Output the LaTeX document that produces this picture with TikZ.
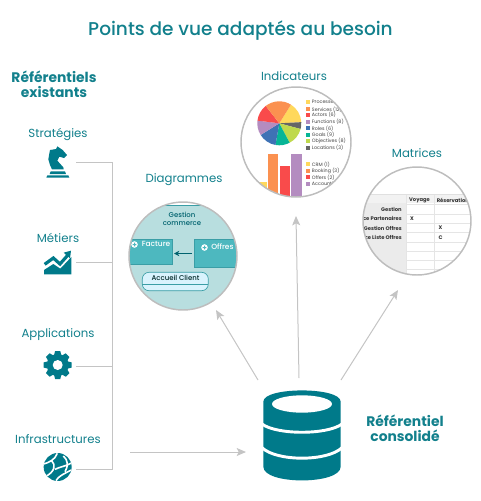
\documentclass[tikz,border=0pt]{standalone}
\usepackage{fontspec}
\setmainfont{Poppins}
\newfontfamily\popmed{Poppins Medium}
\usetikzlibrary{arrows.meta}
\definecolor{teal1}{HTML}{007A8A}
\definecolor{titlec}{HTML}{12808C}
\definecolor{grayl}{HTML}{C4C4C4}
\definecolor{ringc}{HTML}{BDBDBD}
\definecolor{diabg}{HTML}{B8DEDF}
\definecolor{diabox}{HTML}{4DB8BF}
\definecolor{diaborder}{HTML}{3A9EA6}
\definecolor{pYellow}{HTML}{FFD85C}
\definecolor{pOrange}{HTML}{FB9150}
\definecolor{pRed}{HTML}{F94B4B}
\definecolor{pPurple}{HTML}{B48CC0}
\definecolor{pBlue}{HTML}{3E72B5}
\definecolor{pTeal}{HTML}{07B596}
\definecolor{pLime}{HTML}{BFD94C}
\definecolor{pGray}{HTML}{666666}
\tikzset{
  heading/.style={text=titlec,font=\fontsize{8.8}{11}\selectfont,align=center,inner sep=0pt},
  strong/.style={text=titlec,font=\fontsize{10.4}{11}\bfseries\selectfont,align=center,inner sep=0pt},
  conn/.style={draw=grayl,line width=0.75pt},
  arr/.style={conn,-{Stealth[length=7pt,width=6pt,inset=1.5pt]}},
  ring/.style={draw=ringc,line width=1.1pt},
  legend/.style={anchor=west,inner sep=0pt,text=black!75,font=\fontsize{3.6}{4}\selectfont},
  cell/.style={inner sep=0pt,text=black!80,font=\fontsize{3.9}{4}\bfseries\selectfont},
  dia/.style={inner sep=0pt,text=teal1!80!black,font=\popmed\fontsize{5.2}{6}\selectfont,align=center},
  diaw/.style={inner sep=0pt,text=white,font=\popmed\fontsize{5.6}{6}\selectfont},
}
\begin{document}
\begin{tikzpicture}[x=0.75pt,y=-0.75pt]
\useasboundingbox (0,0) rectangle (481,501);

% titles
\node[text=titlec,font=\popmed\fontsize{13.9}{18}\selectfont,inner sep=0pt] (title) at (240.5,30.5) {Points de vue adaptés au besoin};
\node[strong] (exist) at (54,84) {Référentiels\\existants};
\node[heading] (lstrat) at (58,134) {Stratégies};
\node[heading] (lmet) at (58,238) {Métiers};
\node[heading] (lapp) at (58,335) {Applications};
\node[heading] (linf) at (58,439) {Infrastructures};
\node[heading] (lind) at (294,76) {Indicateurs};
\node[heading] (lmat) at (417,153) {Matrices};
\node[heading] (ldia) at (184,180) {Diagrammes};
\node[strong] (lcons) at (405,428) {Référentiel\\consolidé};

% knight icon
\begin{scope}[shift={(0,120)},x=0.25pt,y=-0.25pt]
\fill[teal1] (139,173) -- (142,166) -- (205,166) -- (208,173) -- cycle;
\fill[teal1] (149,162) -- (152,154) -- (195,154) -- (198,162) -- cycle;
\fill[teal1] (156,148) -- (191,148) -- (190,142) -- (172,122) -- (178,110) -- (192,114) -- (201,105) -- (188,90) -- (172,79) -- (168,87) -- (150,90) -- (148,100) -- (145,118) -- (150,135) -- cycle;
\end{scope}
% trend icon
\begin{scope}[shift={(0,120)},x=0.25pt,y=-0.25pt]
\fill[teal1] (132,463) -- (132,450) -- (160,432) -- (181,446) -- (214,411) -- (214,463) -- cycle;
\draw[teal1,line width=2.4pt,line join=miter] (134,433) -- (160,414) -- (180,432) -- (203,406);
\fill[teal1] (213,392) -- (191,398) -- (210,415) -- cycle;
\end{scope}
% gear icon
\begin{scope}[shift={(57.7,365)}]
\foreach \a in {0,45,...,315}{
  \fill[teal1,rotate=\a] (-3.6,-10) -- (-2.6,-14) -- (2.6,-14) -- (3.6,-10) -- cycle;
}
\fill[teal1] (0,0) circle (11);
\fill[white] (0,0) circle (5);
\end{scope}
% globe icon
\begin{scope}[shift={(0,320)},x=0.25pt,y=-0.25pt]
\fill[teal1] (173,441) circle (42);
\begin{scope}
\clip (173,441) circle (42);
\draw[white,line width=1.2pt] (131,432) .. controls (145,428) and (165,420) .. (172,400);
\draw[white,line width=1.2pt] (155,422) .. controls (168,435) and (165,455) .. (136,470);
\draw[white,line width=1.2pt] (165,448) .. controls (180,440) and (195,440) .. (216,428);
\draw[white,line width=1.2pt] (190,408) .. controls (205,420) and (205,440) .. (195,455);
\draw[white,line width=1.2pt] (168,482) .. controls (175,468) and (195,460) .. (214,450);
\end{scope}
\end{scope}

% bracket
\coordinate (s1) at (76,162); \coordinate (t1) at (112,162);
\coordinate (s2) at (76,262); \coordinate (t2) at (112,262);
\coordinate (s3) at (76,366); \coordinate (t3) at (112,366);
\coordinate (s4) at (76,469); \coordinate (t4) at (112,469);
\draw[conn] (s1) -- (t1) -- (t4) -- (s4);
\draw[conn] (s2) -- (t2);
\draw[conn] (s3) -- (t3);

% arrows
\coordinate (a0) at (130,452); \coordinate (a1) at (246,452);
\coordinate (b0) at (258,380); \coordinate (b1) at (216,310);
\coordinate (c0) at (299,378); \coordinate (c1) at (296,216);
\coordinate (d0) at (341,380); \coordinate (d1) at (398,290);
\draw[arr] (a0) -- (a1);
\draw[arr] (b0) -- (b1);
\draw[arr] (c0) -- (c1);
\draw[arr] (d0) -- (d1);

% Indicateurs circle
\coordinate (ci) at (296,142);
\begin{scope}
\clip (ci) circle (55);
\begin{scope}[shift={(279.3,123.3)},x=0.75pt,y=0.75pt]
\fill[pYellow] (0,0) -- (58:22) arc (58:3:22) -- cycle;
\fill[pGray] (0,0) -- (3:22) arc (3:-15:22) -- cycle;
\fill[pLime] (0,0) -- (-15:22) arc (-15:-62:22) -- cycle;
\fill[pTeal] (0,0) -- (-62:22) arc (-62:-100:22) -- cycle;
\fill[pBlue] (0,0) -- (-100:22) arc (-100:-148:22) -- cycle;
\fill[pPurple] (0,0) -- (-148:22) arc (-148:-187:22) -- cycle;
\fill[pRed] (0,0) -- (173:22) arc (173:128:22) -- cycle;
\fill[pOrange] (0,0) -- (128:22) arc (128:58:22) -- cycle;
\end{scope}
\foreach \yy/\cc/\tt in {102.3/pYellow/Processes,109.3/pOrange/Services (12),115/pRed/Actors (6),122/pPurple/Functions (8),128.3/pBlue/Roles (6),135/pTeal/Goals (9),141.3/pLime/Objectives (8),148/pGray/Locations (3),164.3/pYellow/CRM (1),171/pOrange/Booking (3),177.3/pRed/Offers (2),184/pPurple/Accounting (3)}{
  \fill[\cc] (306.3,\yy-2) rectangle (310.3,\yy+2);
  \node[legend] at (311.7,\yy) {\tt};
}
\fill[pYellow] (258.3,181.7) rectangle (266.7,200);
\fill[pOrange] (268,154) rectangle (278.3,200);
\fill[pRed] (280,166) rectangle (290,200);
\fill[pPurple] (291.3,154) rectangle (301.7,200);
\end{scope}
\draw[ring] (ci) circle (55);

% Matrices circle
\coordinate (cm) at (417,221);
\begin{scope}
\clip (cm) circle (54);
\fill[black!8] (355,195) rectangle (406,280);
\fill[black!5] (355,195) rectangle (481,203);
\draw[black!12,line width=0.4pt] (355,194.5) -- (481,194.5);
\foreach \yy in {204,214,223,232,242,251,260,269}{
  \draw[black!10,line width=0.4pt] (406,\yy) -- (481,\yy);
}
\draw[black!10,line width=0.4pt] (406,195) -- (406,280);
\draw[black!10,line width=0.4pt] (434,195) -- (434,280);
\node[cell] (mv) at (419.5,200) {Voyage};
\node[cell,anchor=west] (mr) at (436.5,200) {Réservation};
\node[cell,anchor=east] (m1) at (402,209) {Gestion};
\node[cell,anchor=east] (m2) at (402,218) {ice Partenaires};
\node[cell,anchor=east] (m3) at (402,228) {Gestion Offres};
\node[cell,anchor=east] (m4) at (402,237) {ce Liste Offres};
\node[cell] (x1) at (412,219) {X};
\node[cell] (x2) at (440.5,228) {X};
\node[cell] (x3) at (440.5,238) {C};
\end{scope}
\draw[ring] (cm) circle (54);

% Diagrammes circle
\coordinate (cd) at (183,256);
\begin{scope}
\clip (cd) circle (54);
\fill[diabg] (120,205) rectangle (245,310);
\draw[diaborder,line width=0.5pt] (120,205) -- (245,205);
\node[dia] (dg) at (182,219) {Gestion\\commerce};
\path[fill=diabox,draw=diaborder,line width=0.6pt] (120,239.3) rectangle (172.7,264.3);
\path[fill=diabox,draw=diaborder,line width=0.6pt] (194.7,239.3) rectangle (245,267.7);
\node[diaw,anchor=west] (df) at (141.5,244) {Facture};
\node[diaw,anchor=west] (dof) at (211,247) {Offres};
\fill[white] (134.5,244.5) circle (3.3);
\fill[white] (204.5,247.5) circle (3.3);
\fill[diabox] (132.7,244) rectangle (136.3,245) (134,242.7) rectangle (135,246.3);
\fill[diabox] (202.7,247) rectangle (206.3,248) (204,245.7) rectangle (205,249.3);
\coordinate (af) at (192,253.5); \coordinate (at) at (174,253.5);
\draw[teal1!80!black,line width=0.75pt,-{Stealth[length=4pt,width=4pt]}] (af) -- (at);
\draw[diaborder,fill=white!85!cyan,line width=0.5pt,rounded corners=5pt] (142.3,272.3) rectangle (208.3,290.7);
\draw[diaborder,line width=0.5pt] (142.3,284.3) -- (208.3,284.3);
\node[dia,text=black!70!teal] (dac) at (175.5,278) {Accueil Client};
\end{scope}
\draw[ring] (cd) circle (54);

% database
\begin{scope}[shift={(230,370)},x=0.25pt,y=-0.25pt]
\fill[teal1] (100,95) .. controls (100,50) and (332,50) .. (332,95)
  -- (332,290) .. controls (332,345) and (100,345) .. (100,290) -- cycle;
\fill[white] (216,102) ellipse (90 and 26);
\draw[white,line width=2.2pt] (96,162) .. controls (140,195) and (292,195) .. (336,162);
\draw[white,line width=2.2pt] (96,233) .. controls (140,275) and (292,275) .. (336,233);
\end{scope}
\end{tikzpicture}
\end{document}
